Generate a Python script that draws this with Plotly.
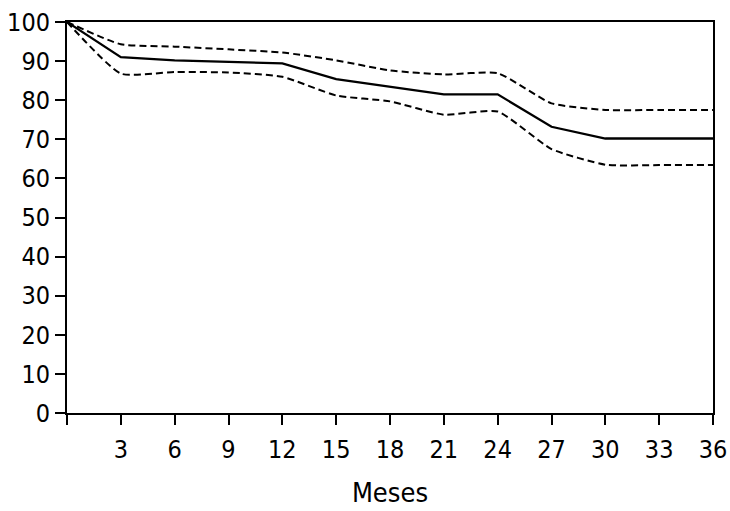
import plotly.graph_objects as go

months = [0, 3, 6, 9, 12, 15, 18, 21, 24, 27, 30, 33, 36]
survival = [100, 91.0, 90.2, 89.8, 89.4, 85.4, 83.5, 81.5, 81.5, 73.2, 70.2, 70.2, 70.2]
upper_ci = [100, 94.3, 93.7, 93.0, 92.2, 90.2, 87.6, 86.6, 86.9, 79.2, 77.5, 77.5, 77.5]
lower_ci = [100, 86.8, 87.2, 87.1, 86.0, 81.2, 79.7, 76.3, 77.1, 67.5, 63.5, 63.4, 63.4]

x_tickvals = [0, 3, 6, 9, 12, 15, 18, 21, 24, 27, 30, 33, 36]
x_ticktext = ["", "3", "6", "9", "12", "15", "18", "21", "24", "27", "30", "33", "36"]
y_tickvals = [0, 10, 20, 30, 40, 50, 60, 70, 80, 90, 100]

FONT = "Liberation Sans Narrow, Arial Narrow, DejaVu Sans Condensed, sans-serif"

fig = go.Figure()
fig.add_trace(go.Scatter(x=months, y=upper_ci, mode="lines",
                         line=dict(color="black", width=2, dash="7px,4px", shape="spline", smoothing=0.5),
                         showlegend=False, hoverinfo="skip"))
fig.add_trace(go.Scatter(x=months, y=lower_ci, mode="lines",
                         line=dict(color="black", width=2, dash="7px,4px", shape="spline", smoothing=0.5),
                         showlegend=False, hoverinfo="skip"))
fig.add_trace(go.Scatter(x=months, y=survival, mode="lines",
                         line=dict(color="black", width=2.3),
                         showlegend=False))

fig.update_layout(
    width=730, height=511,
    margin=dict(l=67, r=17, t=22, b=98, autoexpand=False),
    paper_bgcolor="white", plot_bgcolor="white",
    font=dict(family=FONT, color="black", size=26),
    xaxis=dict(range=[0, 36], tickvals=x_tickvals, ticktext=x_ticktext,
               showline=True, linecolor="black", linewidth=2, mirror=True,
               ticks="outside", ticklen=10, tickwidth=2, tickcolor="black",
               ticklabelstandoff=3, showgrid=False, zeroline=False, automargin=False,
               tickfont=dict(size=25, family=FONT),
               title=dict(text="Meses", font=dict(size=27, family=FONT), standoff=20)),
    yaxis=dict(range=[0, 100], tickvals=y_tickvals,
               showline=True, linecolor="black", linewidth=2, mirror=True,
               ticks="outside", ticklen=10, tickwidth=2, tickcolor="black",
               ticklabelstandoff=0, showgrid=False, zeroline=False, automargin=False,
               tickfont=dict(size=25, family=FONT)),
)

fig.write_html("out.html", config={"displayModeBar": False},
               post_script="document.body.style.margin='0';")
